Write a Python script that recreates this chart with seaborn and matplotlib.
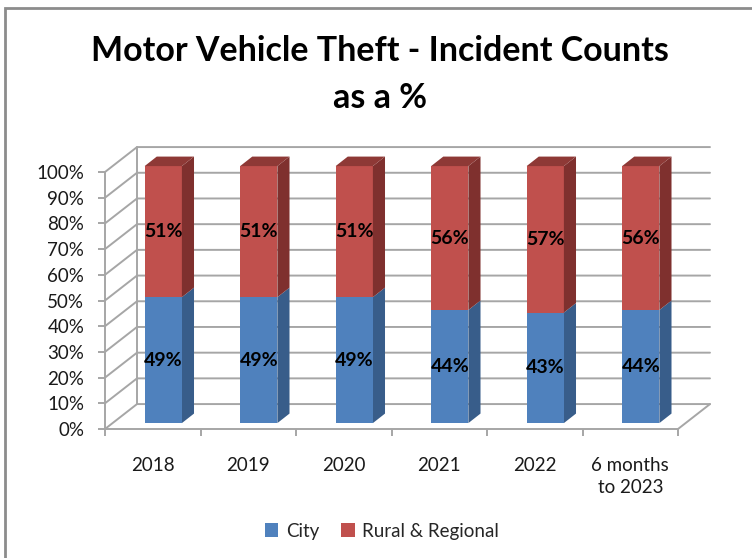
import matplotlib
matplotlib.use("Agg")
import matplotlib.pyplot as plt
from matplotlib.patches import Polygon, Rectangle
import seaborn as sns
import pandas as pd

# values
years = ['2018', '2019', '2020', '2021', '2022', '6 months\nto 2023']
city = [49, 49, 49, 44, 43, 44]
rural = [51, 51, 51, 56, 57, 56]
series_names = ['City', 'Rural & Regional']
y_ticks = [0, 10, 20, 30, 40, 50, 60, 70, 80, 90, 100]

df = pd.DataFrame({'year': years, 'city': city, 'rural': rural})
df['total'] = df['city'] + df['rural']

blue, red = '#4f81bd', '#c0504d'
blue_side, red_side = '#385d8a', '#7f302e'
red_top = '#8e3936'
grid_col = '#a6a6a6'

sns.set_theme(style='white')
plt.rcParams['font.family'] = ['Lato', 'DejaVu Sans']

fig = plt.figure(figsize=(7.52, 5.58), dpi=100)
W, H = 752, 558
# front plane of the 3d box
ax = fig.add_axes([105 / W, 1 - 429 / H, 573 / W, 257 / H])
ax.set_xlim(-0.5, 5.5)
ax.set_ylim(0, 100)

# depth of the box, in data units
dx, dy = 0.335, 9.7
# bar placement inside the box
bar_w = 0.39
front_dx, front_dy = 0.11, 2.3
side_dx, side_dy = 0.127, 3.7

# back wall + left wall gridlines
x0, x1 = -0.5, 5.5
for t in y_ticks:
    ax.plot([x0, x0 + dx, x1 + dx], [t, t + dy, t + dy], color=grid_col,
            lw=1.4, clip_on=False, zorder=0)
ax.plot([x0 + dx, x0 + dx], [dy, 100 + dy], color=grid_col, lw=1.4, clip_on=False, zorder=0)
ax.plot([x1, x1 + dx], [0, dy], color=grid_col, lw=1.4, clip_on=False, zorder=0)

# front faces via seaborn (total first, city on top)
sns.barplot(data=df, x='year', y='total', color=red, saturation=1, width=bar_w,
            errorbar=None, linewidth=0, label=series_names[1], ax=ax, zorder=2)
sns.barplot(data=df, x='year', y='city', color=blue, saturation=1, width=bar_w,
            errorbar=None, linewidth=0, label=series_names[0], ax=ax, zorder=3)

n = len(years)
red_bars = ax.patches[:n]
blue_bars = ax.patches[n:2 * n]
for p in red_bars + blue_bars:
    p.set_x(p.get_x() + front_dx)
    p.set_y(p.get_y() + front_dy)
    p.set_clip_on(False)

for rb, bb, c, r in zip(red_bars, blue_bars, city, rural):
    xl = rb.get_x()
    xr = xl + rb.get_width()
    yb = rb.get_y()
    yc = yb + bb.get_height()
    yt = yb + rb.get_height()
    # side faces
    ax.add_patch(Polygon([(xr, yb), (xr + side_dx, yb + side_dy),
                          (xr + side_dx, yc + side_dy), (xr, yc)],
                         closed=True, fc=blue_side, ec='none', clip_on=False, zorder=2))
    ax.add_patch(Polygon([(xr, yc), (xr + side_dx, yc + side_dy),
                          (xr + side_dx, yt + side_dy), (xr, yt)],
                         closed=True, fc=red_side, ec='none', clip_on=False, zorder=2))
    # top face
    ax.add_patch(Polygon([(xl, yt), (xr, yt), (xr + side_dx, yt + side_dy),
                          (xl + side_dx, yt + side_dy)],
                         closed=True, fc=red_top, ec='none', clip_on=False, zorder=2))
    xm = (xl + xr) / 2
    ax.text(xm, yb + c / 2, f'{c}%', ha='center', va='center', fontsize=14,
            fontweight='bold', color='black', zorder=5)
    ax.text(xm, yc + r / 2, f'{r}%', ha='center', va='center', fontsize=14,
            fontweight='bold', color='black', zorder=5)

# axes styling
for s in ['top', 'right']:
    ax.spines[s].set_visible(False)
for s in ['left', 'bottom']:
    ax.spines[s].set_color(grid_col)
    ax.spines[s].set_linewidth(1.4)
ax.set_yticks(y_ticks)
ax.set_yticklabels([f'{t}%' for t in y_ticks], fontsize=13.5, color='#1a1a1a')
ax.set_xticks(range(n))
ax.set_xticklabels(years, fontsize=13.5, color='#1a1a1a', linespacing=1.35)
ax.set_xticks([i - 0.5 for i in range(n + 1)], minor=True)
ax.tick_params(axis='y', which='major', left=True, length=5, width=1.4, color=grid_col, pad=10)
ax.tick_params(axis='x', which='major', bottom=False, length=0, pad=20)
ax.tick_params(axis='x', which='minor', bottom=True, length=5, width=1.4, color=grid_col)
ax.set_xlabel('')
ax.set_ylabel('')
ax.grid(False)
if ax.get_legend():
    ax.get_legend().remove()

# title
fig.text(380 / W, 1 - 51 / H, 'Motor Vehicle Theft - Incident Counts', ha='center', va='center',
         fontsize=24.5, fontweight='bold', color='black')
fig.text(380 / W, 1 - 98 / H, 'as a %', ha='center', va='center',
         fontsize=24.5, fontweight='bold', color='black')

# legend
handles, labels = ax.get_legend_handles_labels()
order = [labels.index(s) for s in series_names]
fig.legend([handles[i] for i in order], [labels[i] for i in order],
           loc='center', bbox_to_anchor=(382 / W, 1 - 531 / H), ncol=2, frameon=False,
           fontsize=13.5, handlelength=0.7, handleheight=0.7, handletextpad=0.4,
           columnspacing=1.2)

# chart frame (only left and top edges are visible in the crop)
fig.add_artist(Rectangle((5 / W, -0.1), 2, 1 - 8 / H + 0.1, transform=fig.transFigure,
                         fill=False, edgecolor='#8c8c8c', lw=2))

fig.savefig('out.png', dpi=100, facecolor='white')
